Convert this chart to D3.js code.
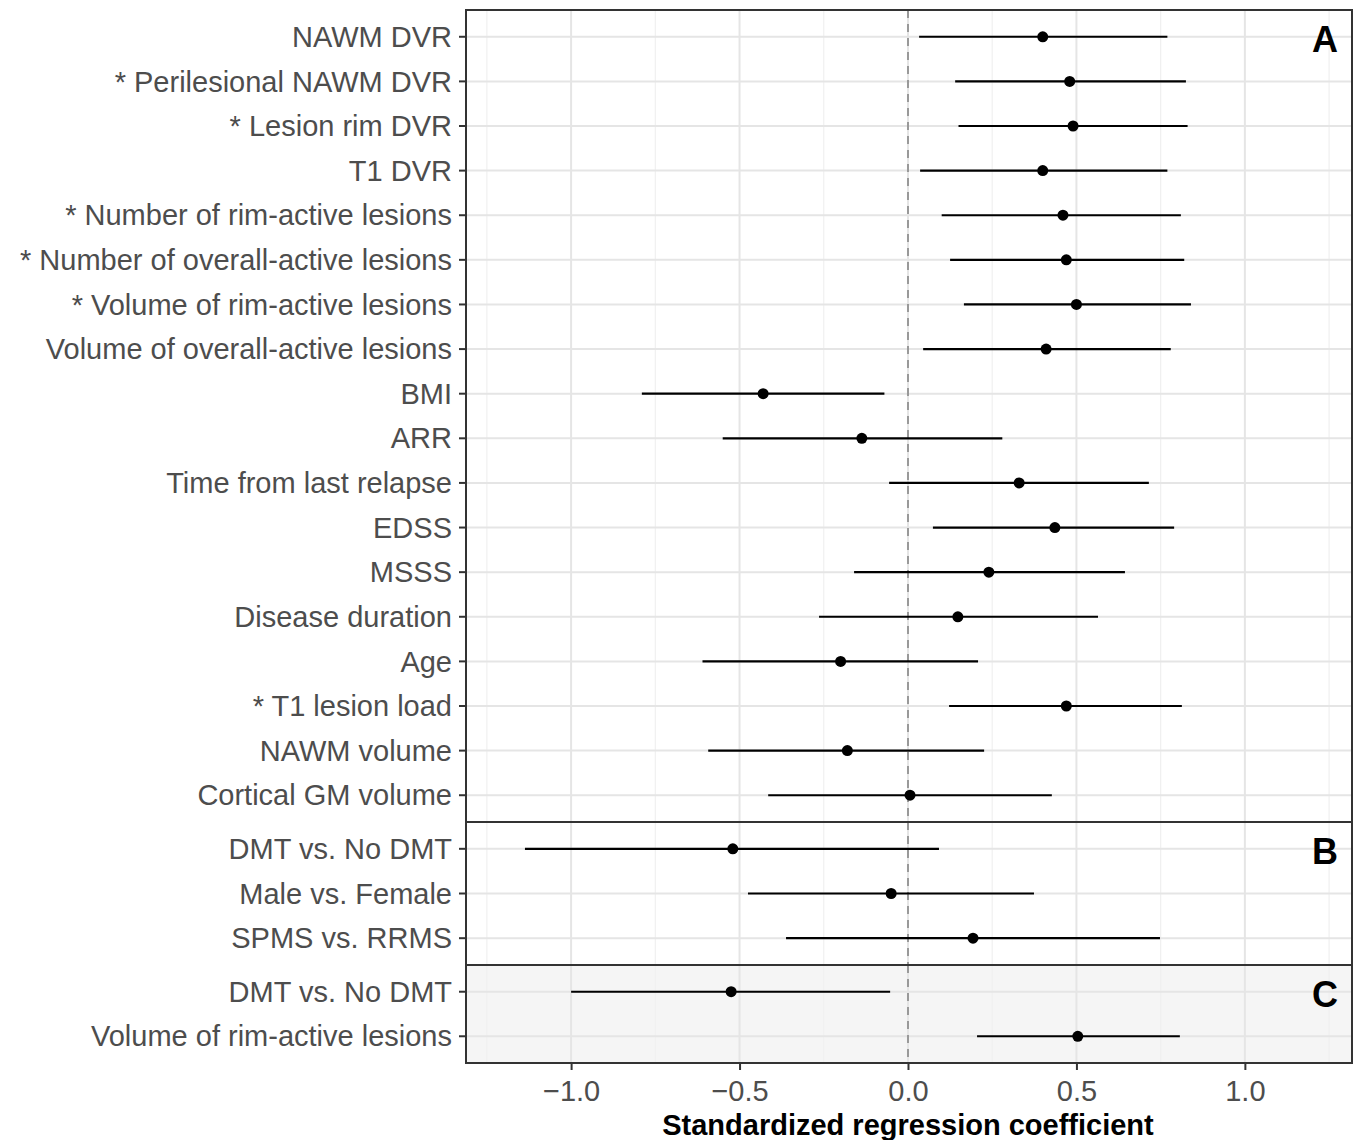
<!DOCTYPE html>
<html><head><meta charset="utf-8">
<script src="https://cdn.jsdelivr.net/npm/d3@7"></script>
<style>body{margin:0;background:#fff}</style>
</head><body>
<svg id="chart" width="1354" height="1140"></svg>
<script>
// panel A
var labelsA = ["NAWM DVR","* Perilesional NAWM DVR","* Lesion rim DVR","T1 DVR","* Number of rim-active lesions","* Number of overall-active lesions","* Volume of rim-active lesions","Volume of overall-active lesions","BMI","ARR","Time from last relapse","EDSS","MSSS","Disease duration","Age","* T1 lesion load","NAWM volume","Cortical GM volume"];
var estA = [0.40,0.48,0.49,0.40,0.46,0.47,0.50,0.41,-0.43,-0.137,0.33,0.436,0.24,0.148,-0.20,0.47,-0.18,0.006];
var loA  = [0.033,0.14,0.15,0.036,0.10,0.125,0.166,0.045,-0.79,-0.55,-0.056,0.074,-0.16,-0.264,-0.61,0.122,-0.593,-0.415];
var hiA  = [0.77,0.825,0.83,0.77,0.81,0.82,0.84,0.78,-0.07,0.28,0.715,0.79,0.644,0.564,0.208,0.813,0.226,0.427];
// panel B
var labelsB = ["DMT vs. No DMT","Male vs. Female","SPMS vs. RRMS"];
var estB = [-0.52,-0.05,0.193];
var loB  = [-1.137,-0.475,-0.362];
var hiB  = [0.092,0.374,0.748];
// panel C
var labelsC = ["DMT vs. No DMT","Volume of rim-active lesions"];
var estC = [-0.525,0.504];
var loC  = [-1.0,0.205];
var hiC  = [-0.053,0.807];
var xTicks = [-1.0,-0.5,0.0,0.5,1.0];

var font = "Liberation Sans, Arial, sans-serif";
var svg = d3.select("#chart");
var left = 466, right = 1352;
var x = d3.scaleLinear().domain([-1.312,1.318]).range([left,right]);

var panels = [
  {tag:"A", labels:labelsA, est:estA, lo:loA, hi:hiA, y0:10, y1:822, bg:"#ffffff"},
  {tag:"B", labels:labelsB, est:estB, lo:loB, hi:hiB, y0:822, y1:965, bg:"#ffffff"},
  {tag:"C", labels:labelsC, est:estC, lo:loC, hi:hiC, y0:965, y1:1063, bg:"#f5f5f5"}
];

panels.forEach(function(p){
  var n = p.labels.length;
  var pad = (p.y1 - p.y0) / (n + 0.2) * 0.6;
  var y = d3.scalePoint().domain(p.labels).range([p.y0 + pad, p.y1 - pad]);
  var g = svg.append("g");
  g.append("rect").attr("x",left).attr("y",p.y0).attr("width",right-left).attr("height",p.y1-p.y0).attr("fill",p.bg);
  g.selectAll(".mg").data(d3.range(-1.25,1.3,0.5)).enter().append("line")
    .attr("x1",d=>x(d)).attr("x2",d=>x(d)).attr("y1",p.y0).attr("y2",p.y1)
    .attr("stroke","#f0f0f0").attr("stroke-width",1.2);
  g.selectAll(".xg").data(xTicks).enter().append("line")
    .attr("x1",d=>x(d)).attr("x2",d=>x(d)).attr("y1",p.y0).attr("y2",p.y1)
    .attr("stroke","#e5e5e5").attr("stroke-width",2);
  g.selectAll(".yg").data(p.labels).enter().append("line")
    .attr("x1",left).attr("x2",right).attr("y1",d=>y(d)).attr("y2",d=>y(d))
    .attr("stroke","#e5e5e5").attr("stroke-width",2);
  g.append("line").attr("x1",x(0)).attr("x2",x(0)).attr("y1",p.y0).attr("y2",p.y1)
    .attr("stroke","#999").attr("stroke-width",2).attr("stroke-dasharray","8,6");
  p.labels.forEach(function(l,i){
    var yy = y(l);
    g.append("line").attr("x1",x(p.lo[i])).attr("x2",x(p.hi[i])).attr("y1",yy).attr("y2",yy)
      .attr("stroke","#000").attr("stroke-width",2.2);
    g.append("circle").attr("cx",x(p.est[i])).attr("cy",yy).attr("r",5.5).attr("fill","#000");
    g.append("line").attr("x1",left-7).attr("x2",left).attr("y1",yy).attr("y2",yy).attr("stroke","#333").attr("stroke-width",2);
    g.append("text").attr("x",left-14).attr("y",yy).attr("dy","0.35em").attr("text-anchor","end")
      .attr("font-family",font).attr("font-size",29).attr("fill","#4d4d4d").text(l);
  });
  g.append("text").attr("x",right-14).attr("y",p.y0+42).attr("text-anchor","end")
    .attr("font-family",font).attr("font-weight","bold").attr("font-size",36).text(p.tag);
  g.append("rect").attr("x",left).attr("y",p.y0).attr("width",right-left).attr("height",p.y1-p.y0)
    .attr("fill","none").attr("stroke","#333").attr("stroke-width",2);
});

var ax = svg.append("g").attr("transform","translate(0,1063)")
  .call(d3.axisBottom(x).tickValues(xTicks).tickFormat(d3.format(".1f")).tickSize(7));
ax.select(".domain").remove();
ax.selectAll("line").attr("stroke","#333").attr("stroke-width",2);
ax.selectAll("text").attr("font-family",font).attr("font-size",29).attr("fill","#4d4d4d").attr("dy","0.95em");
svg.append("text").attr("x",x(0)).attr("y",1135).attr("text-anchor","middle")
  .attr("font-family",font).attr("font-weight","bold").attr("font-size",29).text("Standardized regression coefficient");
</script>
</body></html>
